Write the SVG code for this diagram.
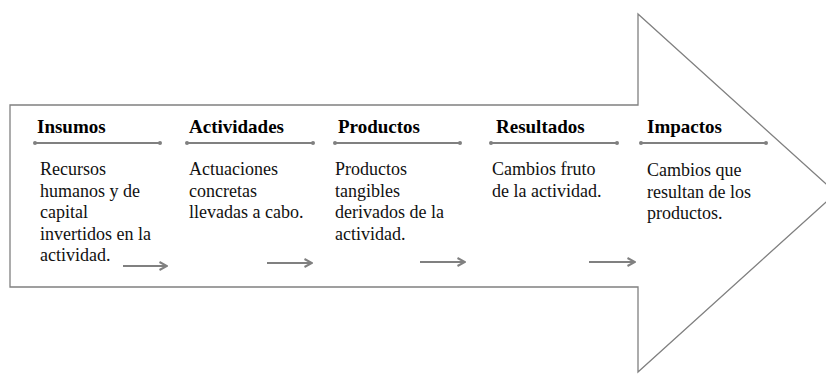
<svg xmlns="http://www.w3.org/2000/svg" width="826" height="374" viewBox="0 0 826 374">
<defs>
<style>
.h{font-family:"Liberation Serif","Times New Roman",serif;font-weight:bold;font-size:19px;fill:#000}
.b{font-family:"Liberation Serif","Times New Roman",serif;font-size:18px;fill:#111}
.rule{stroke:#808080;stroke-width:2.2;fill:none}
.dot{fill:#808080}
.conn{stroke:#808080;stroke-width:2;fill:none}
</style>
<marker id="ah" viewBox="0 0 10 10" refX="9" refY="5" markerWidth="5" markerHeight="5" orient="auto" markerUnits="strokeWidth">
<path d="M1.5,1 L9,5 L1.5,9" fill="none" stroke="#808080" stroke-width="2"/>
</marker>
</defs>
<rect width="826" height="374" fill="#fff"/>
<polygon id="big-arrow" points="10,105 638,105 638,14 836,193 638,372 638,287 10,287" fill="#fff" stroke="#808080" stroke-width="1.3"/>
<g id="insumos">
<text class="h" x="37" y="133">Insumos</text>
<line class="rule" x1="35" y1="143" x2="160" y2="143"/><circle class="dot" cx="35" cy="143" r="2"/><circle class="dot" cx="160" cy="143" r="2"/>
<text class="b" x="40" y="175">Recursos</text>
<text class="b" x="40" y="196.5">humanos y de</text>
<text class="b" x="40" y="218">capital</text>
<text class="b" x="40" y="239.5">invertidos en la</text>
<text class="b" x="40" y="261">actividad.</text>
</g>
<g id="actividades">
<text class="h" x="189" y="133">Actividades</text>
<line class="rule" x1="187" y1="143" x2="313" y2="143"/><circle class="dot" cx="187" cy="143" r="2"/><circle class="dot" cx="313" cy="143" r="2"/>
<text class="b" x="189" y="175">Actuaciones</text>
<text class="b" x="189" y="196.5">concretas</text>
<text class="b" x="189" y="218">llevadas a cabo.</text>
</g>
<g id="productos">
<text class="h" x="338" y="133">Productos</text>
<line class="rule" x1="335" y1="143" x2="460" y2="143"/><circle class="dot" cx="335" cy="143" r="2"/><circle class="dot" cx="460" cy="143" r="2"/>
<text class="b" x="335" y="175">Productos</text>
<text class="b" x="335" y="196.5">tangibles</text>
<text class="b" x="335" y="218">derivados de la</text>
<text class="b" x="335" y="239.5">actividad.</text>
</g>
<g id="resultados">
<text class="h" x="496" y="133">Resultados</text>
<line class="rule" x1="491" y1="143" x2="617" y2="143"/><circle class="dot" cx="491" cy="143" r="2"/><circle class="dot" cx="617" cy="143" r="2"/>
<text class="b" x="492" y="175">Cambios fruto</text>
<text class="b" x="492" y="196.5">de la actividad.</text>
</g>
<g id="impactos">
<text class="h" x="647" y="133">Impactos</text>
<line class="rule" x1="641" y1="143" x2="766" y2="143"/><circle class="dot" cx="641" cy="143" r="2"/><circle class="dot" cx="766" cy="143" r="2"/>
<text class="b" x="647" y="176">Cambios que</text>
<text class="b" x="647" y="197.5">resultan de los</text>
<text class="b" x="647" y="219">productos.</text>
</g>
<g id="connectors">
<line class="conn" x1="123" y1="266" x2="167" y2="266" marker-end="url(#ah)"/>
<line class="conn" x1="267" y1="263" x2="312" y2="263" marker-end="url(#ah)"/>
<line class="conn" x1="420" y1="262" x2="465" y2="262" marker-end="url(#ah)"/>
<line class="conn" x1="589" y1="262" x2="635" y2="262" marker-end="url(#ah)"/>
</g>
</svg>
